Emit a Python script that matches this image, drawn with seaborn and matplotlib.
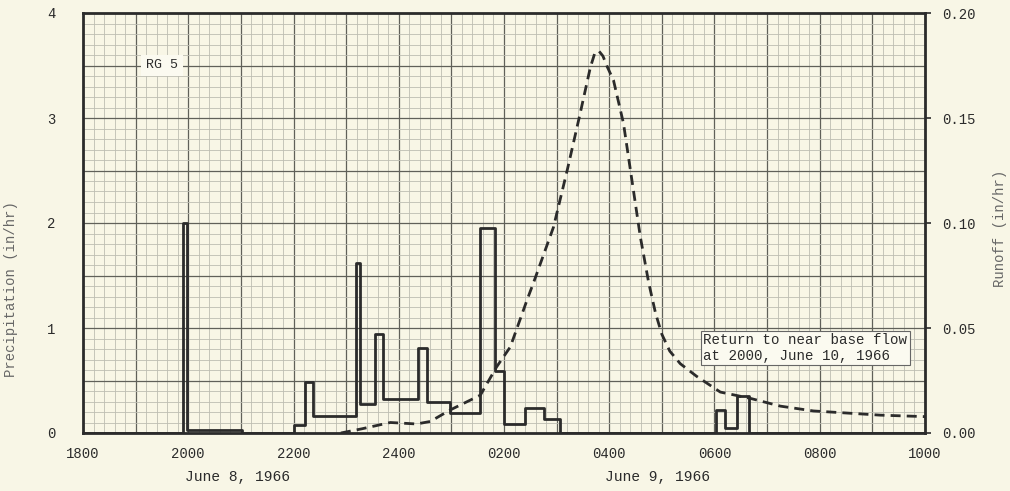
import numpy as np
import pandas as pd
import matplotlib
matplotlib.use("Agg")
import matplotlib.pyplot as plt
import matplotlib.transforms as mtransforms
from matplotlib.ticker import MultipleLocator, FuncFormatter
import seaborn as sns

# Precipitation hyetograph, RG 5 (hours after 1800 June 8, rate in in/hr, step starts)
prec_hours = [0.0, 1.90, 1.98, 3.02, 4.0, 4.22, 4.37, 5.19, 5.27, 5.55, 5.71, 6.37, 6.53,
              6.98, 7.55, 7.82, 8.0, 8.39, 8.76, 9.06, 12.02, 12.20, 12.42, 12.66, 16.0]
prec_rate = [0.0, 2.0, 0.03, 0.0, 0.08, 0.49, 0.165, 1.62, 0.28, 0.94, 0.32, 0.81, 0.30,
             0.19, 1.95, 0.59, 0.09, 0.24, 0.13, 0.0, 0.22, 0.045, 0.35, 0.0, 0.0]

# Runoff hydrograph (in/hr)
runoff_hours = [4.9, 5.3, 5.84, 6.34, 6.6, 6.98, 7.55, 7.86, 8.12, 8.44, 8.56, 8.94, 9.2,
                9.45, 9.64, 9.72, 9.80, 9.88, 9.96, 10.08, 10.27, 10.43, 10.59, 10.75,
                10.88, 11.0, 11.15, 11.35, 11.66, 12.11, 12.68, 13.25, 13.88, 14.52,
                15.15, 16.0]
runoff_rate = [0.0, 0.002, 0.005, 0.0043, 0.0055, 0.011, 0.018, 0.0315, 0.041, 0.0635,
               0.0715, 0.098, 0.125, 0.1525, 0.174, 0.1805, 0.182, 0.1795, 0.1745, 0.168,
               0.1475, 0.1205, 0.0935, 0.0715, 0.057, 0.047, 0.039, 0.033, 0.027, 0.0195,
               0.0165, 0.0128, 0.0105, 0.0095, 0.0085, 0.0078]

x_tick_labels = ['1800', '2000', '2200', '2400', '0200', '0400', '0600', '0800', '1000']
runoff_ticks = [0.0, 0.05, 0.10, 0.15, 0.20]

bg = '#f8f6e6'
ink = '#2b2b2b'
mono = 'Liberation Mono'

sns.set_theme(style="white")
plt.rcParams['font.family'] = [mono, 'DejaVu Sans Mono']
plt.rcParams['text.color'] = ink
plt.rcParams['axes.labelcolor'] = '#666666'

fig = plt.figure(figsize=(10.1, 4.91), dpi=100, facecolor=bg)
ax = fig.add_axes([83 / 1010, 58 / 491, 842 / 1010, 420 / 491])
ax.set_facecolor(bg)

prec_df = pd.DataFrame({'hours': prec_hours, 'rate': prec_rate})
run_df = pd.DataFrame({'hours': runoff_hours, 'rate': runoff_rate})

# graph-paper grid
ax.set_xlim(0, 16)
ax.set_ylim(0, 4)
ax.xaxis.set_major_locator(MultipleLocator(1))
ax.xaxis.set_minor_locator(MultipleLocator(0.2))
ax.yaxis.set_major_locator(MultipleLocator(0.5))
ax.yaxis.set_minor_locator(MultipleLocator(0.1))
ax.grid(which='minor', color='#bdbdb2', lw=0.6)
ax.grid(which='major', color='#606059', lw=0.9)
ax.set_axisbelow(True)

ax.xaxis.set_major_formatter(FuncFormatter(
    lambda v, p: x_tick_labels[int(round(v)) // 2] if int(round(v)) % 2 == 0 else ''))
ax.yaxis.set_major_formatter(FuncFormatter(
    lambda v, p: f'{int(v)}' if abs(v - round(v)) < 1e-6 else ''))
ax.tick_params(axis='x', which='both', length=0, pad=10, labelsize=10, colors=ink)
ax.tick_params(axis='y', which='both', length=0, pad=20, labelsize=10, colors=ink)

sns.lineplot(data=prec_df, x='hours', y='rate', ax=ax, drawstyle='steps-post',
             color=ink, lw=2.0, errorbar=None, sort=False)

ax.set_xlabel('')
ax.set_ylabel('Precipitation (in/hr)', fontsize=10)
ax.yaxis.set_label_coords(-0.077, 0.343)

for s in ax.spines.values():
    s.set_color(ink)
    s.set_linewidth(2.0)

ax2 = ax.twinx()
ax2.set_ylim(0, 0.2)
sns.lineplot(data=run_df, x='hours', y='rate', ax=ax2, color=ink, lw=2.0,
             linestyle=(0, (3.6, 2.2)), errorbar=None, sort=False)
ax2.set_yticks(runoff_ticks)
ax2.set_yticklabels([f'{v:.2f}' for v in runoff_ticks])
ax2.tick_params(axis='y', length=4, width=1.2, pad=8, labelsize=10, colors=ink)
ax2.set_xlabel('')
ax2.set_ylabel('Runoff (in/hr)', fontsize=10)
ax2.yaxis.set_label_coords(1.081, 0.488)
for s in ax2.spines.values():
    s.set_visible(False)

# annotations
ax.text(1.5, 3.5, 'RG 5', ha='center', va='center', fontsize=9.5,
        bbox=dict(facecolor='#fbfaf0', edgecolor='none', boxstyle='square,pad=0.35'))
ax.text(11.79, 0.81, 'Return to near base flow\nat 2000, June 10, 1966', ha='left',
        va='center', fontsize=10.2, linespacing=1.15,
        bbox=dict(facecolor='#fbfaf0', edgecolor='#666666', lw=0.8, pad=1.5))

trans = mtransforms.blended_transform_factory(ax.transData, ax.transAxes)
ax.text(2.94, -0.105, 'June 8, 1966', transform=trans, ha='center', va='center', fontsize=10.5)
ax.text(10.92, -0.105, 'June 9, 1966', transform=trans, ha='center', va='center', fontsize=10.5)

fig.savefig('out.png', dpi=100, facecolor=bg)
